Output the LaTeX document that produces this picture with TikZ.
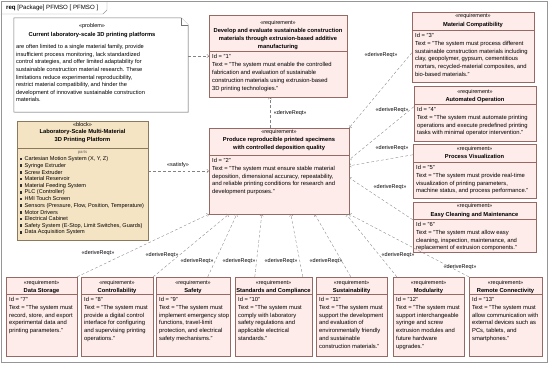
\documentclass[tikz,border=0pt]{standalone}
\usepackage{fontspec}
\setmainfont{Liberation Sans}
\usetikzlibrary{fit,calc,arrows.meta,shadows}

\definecolor{reqfill}{RGB}{253,236,233}
\definecolor{reqdraw}{RGB}{150,105,100}
\definecolor{blkfill}{RGB}{245,228,196}
\definecolor{blkdraw}{RGB}{140,120,90}
\definecolor{lnk}{RGB}{130,130,130}
\definecolor{frm}{RGB}{150,150,150}

\newcommand\stfont{\fontsize{7.8}{9}\selectfont}
\newcommand\ttfont{\bfseries\fontsize{8.2}{11.4}\selectfont}
\newcommand\bdfont{\fontsize{8.3}{11.2}\selectfont}

\tikzset{
  req/.style={draw=reqdraw, fill=reqfill, inner sep=0pt, line width=0.6pt,
    drop shadow={shadow xshift=1.2pt, shadow yshift=-1.2pt, opacity=0.25}},
  blk/.style={draw=blkdraw, fill=blkfill, inner sep=0pt, line width=0.6pt,
    drop shadow={shadow xshift=1.2pt, shadow yshift=-1.2pt, opacity=0.25}},
  notebox/.style={draw=black!55, fill=white, line width=0.6pt},
  stereo/.style={font=\stfont, inner sep=0pt},
  rtitle/.style={font=\ttfont, align=center, inner sep=0pt},
  rbody/.style={font=\bdfont, align=left, inner sep=0pt},
  sepline/.style={draw=reqdraw, line width=0.5pt},
  dep/.style={draw=lnk, line width=0.5pt, dash pattern=on 4pt off 3pt,
    -{Straight Barb[length=2.5pt, width=5pt]}},
  lbl/.style={font=\stfont, inner sep=1pt},
  part/.style={font=\fontsize{7.9}{9.5}\selectfont, anchor=west, inner sep=0pt},
}

% requirement box: name, x1, y1, x2, y2, stereotype y, title, separator y, text
\newcommand\reqbox[9]{%
  \node[req, fit={(#2,#3) (#4,#5)}] (#1) {};
  \node[stereo] (#1-st) at ({(#2+#4)/2},#6) {«requirement»};
  \node[rtitle, anchor=north] (#1-ti) at ({(#2+#4)/2},{#6+5.5}) {#7};
  \draw[sepline] (#2,#8) -- (#4,#8);
  \node[rbody, anchor=north west] (#1-tx) at ({#2+3},{#8+3}) {#9};
}

\begin{document}
\begin{tikzpicture}[x=0.05cm, y=-0.05cm]
\useasboundingbox (0,0) rectangle (550,366);

% Diagram frame
\draw[frm, line width=0.6pt] (1,1) rectangle (547,362);
\draw[frm, line width=0.6pt] (1,14) -- (103,14) -- (107,10) -- (107,1);
\node[anchor=west, font=\fontsize{8.7}{10}\selectfont, inner sep=0pt] (hdr) at (6,7.5)
  {\textbf{req} [Package] PFMSO [ PFMSO ]};

% Problem note
\node[fit={(14,18) (188,112)}, inner sep=0pt] (prob) {};
\draw[notebox, drop shadow={shadow xshift=1.2pt, shadow yshift=-1.2pt, opacity=0.2}]
  (prob.north west) -- ($(prob.north east)+(-7,0)$) -- ($(prob.north east)+(0,7)$)
  -- (prob.south east) -- (prob.south west) -- cycle;
\draw[notebox] ($(prob.north east)+(-7,0)$) -- ($(prob.north east)+(-7,7)$) -- ($(prob.north east)+(0,7)$);
\node[stereo] (prob-st) at (92,26) {«problem»};
\node[rtitle] (prob-ti) at (92,35) {Current laboratory-scale 3D printing platforms};
\node[rbody, anchor=north west, font=\fontsize{8.1}{10.8}\selectfont] (prob-tx) at (16,44.5)
  {are often limited to a single material family, provide\\
   insufficient process monitoring, lack standardized\\
   control strategies, and offer limited adaptability for\\
   sustainable construction material research. These\\
   limitations reduce experimental reproducibility,\\
   restrict material compatibility, and hinder the\\
   development of innovative sustainable construction\\
   materials.};

% Block
\node[blk, fit={(17,121) (148,240)}] (blk) {};
\node[stereo] (blk-st) at (82.5,125) {«block»};
\node[rtitle, anchor=north] (blk-ti) at (82.5,129) {Laboratory-Scale Multi-Material\\3D Printing Platform};
\draw[draw=blkdraw, line width=0.5pt] (17,148) -- (148,148);
\node[stereo, font=\fontsize{6}{7}\selectfont, text=black!60] (blk-pt) at (82.5,152.5) {parts};
\foreach \p [count=\i] in {{Cartesian Motion System (X, Y, Z)}, Syringe Extruder, Screw Extruder,
    Material Reservoir, Material Feeding System, PLC (Controller), HMI Touch Screen,
    {Sensors (Pressure, Flow, Position, Temperature)}, Motor Drivers, Electrical Cabinet,
    {Safety System (E-Stop, Limit Switches, Guards)}, Data Acquisition System} {
  \fill[black!80] ({19.5},{152.3+\i*6.67-1.2}) rectangle ({21.9},{152.3+\i*6.67+1.2});
  \node[part] (pt\i) at (24.5,{152.3+\i*6.67}) {\p};
}

% Top level requirements
\reqbox{r1}{209}{15}{347}{97}{23}{Develop and evaluate sustainable construction\\materials through extrusion-based additive\\manufacturing}{51.5}
  {Id = "1"\\Text = "The system must enable the controlled\\fabrication and evaluation of sustainable\\construction materials using extrusion-based\\3D printing technologies."}
\reqbox{r2}{209}{128}{349}{214}{132}{Produce reproducible printed specimens\\with controlled deposition quality}{155}
  {Id = "2"\\Text = "The system must ensure stable material\\deposition, dimensional accuracy, repeatability,\\and reliable printing conditions for research and\\development purposes."}

% Right column
\reqbox{r3}{412}{12}{534}{82}{16.5}{Material Compatibility}{30}
  {Id = "3"\\Text = "The system must process different\\sustainable construction materials including\\clay, geopolymer, gypsum, cementitious\\mortars, recycled-material composites, and\\bio-based materials."}
\reqbox{r4}{414}{86}{536}{141}{92}{Automated Operation}{104}
  {Id = "4"\\Text = "The system must automate printing\\operations and execute predefined printing\\tasks with minimal operator intervention."}
\reqbox{r5}{413}{144}{536}{198}{149}{Process Visualization}{162}
  {Id = "5"\\Text = "The system must provide real-time\\visualization of printing parameters,\\machine status, and process performance."}
\reqbox{r6}{413}{202}{536}{252}{206.5}{Easy Cleaning and Maintenance}{219}
  {Id = "6"\\Text = "The system must allow easy\\cleaning, inspection, maintenance, and\\replacement of extrusion components."}

% Bottom row
\reqbox{r7}{6}{277}{77}{356}{283}{Data Storage}{294}
  {Id = "7"\\Text = "The system must\\record, store, and export\\experimental data and\\printing parameters."}
\reqbox{r8}{81}{277}{153}{356}{283}{Controllability}{294}
  {Id = "8"\\Text = "The system must\\provide a digital control\\interface for configuring\\and supervising printing\\operations."}
\reqbox{r9}{156}{277}{230}{356}{283}{Safety}{294}
  {Id = "9"\\Text = "The system must\\implement emergency stop\\functions, travel-limit\\protection, and electrical\\safety mechanisms."}
\reqbox{r10}{235}{277}{312}{356}{283}{Standards and Compliance}{294}
  {Id = "10"\\Text = "The system must\\comply with laboratory\\safety regulations and\\applicable electrical\\standards."}
\reqbox{r11}{316}{277}{387}{356}{283}{Sustainability}{294}
  {Id = "11"\\Text = "The system must\\support the development\\and evaluation of\\environmentally friendly\\and sustainable\\construction materials."}
\reqbox{r12}{393}{277}{464}{356}{283}{Modularity}{294}
  {Id = "12"\\Text = "The system must\\support interchangeable\\syringe and screw\\extrusion modules and\\future hardware\\upgrades."}
\reqbox{r13}{469}{277}{542}{356}{283}{Remote Connectivity}{294}
  {Id = "13"\\Text = "The system must\\allow communication with\\external devices such as\\PCs, tablets, and\\smartphones."}

% Note and satisfy links
\draw[dep] (prob.east |- r1.west) -- (r1.west);
\draw[dep] (blk.east |- r2.west) -- (r2.west);
\node[lbl] (l-sat) at (178,165.5) {«satisfy»};
\draw[dep] ($(r2.north west)+(61,0)$) -- ($(r1.south west)+(61,0)$);
\node[lbl, anchor=west] (l-d1) at (273,113) {«deriveReqt»};

% Derive links, right column
\draw[dep] ($(r3.north west)+(0,41)$) -- (r2.north east);
\node[lbl] (l-d3) at (381,55) {«deriveReqt»};
\draw[dep] ($(r4.north west)+(0,21)$) -- ($(r2.north east)+(0,32)$);
\node[lbl] (l-d4) at (392,110) {«deriveReqt»};
\draw[dep] ($(r5.north west)+(0,11)$) -- ($(r2.north east)+(0,38)$);
\node[lbl] (l-d5) at (392,148) {«deriveReqt»};
\draw[dep] ($(r6.north west)+(0,18)$) -- ($(r2.north east)+(0,50)$);
\node[lbl] (l-d6) at (390,187) {«deriveReqt»};

% Derive links, bottom row
\draw[dep] (r7.north east) -- (r2.south west);
\node[lbl] (l-d7) at (98,253) {«deriveReqt»};
\draw[dep] (r8.north east) -- ($(r2.south west)+(20,0)$);
\node[lbl] (l-d8) at (162,255) {«deriveReqt»};
\draw[dep] ($(r9.north west)+(52,0)$) -- ($(r2.south west)+(28,0)$);
\node[lbl] (l-d9) at (197,261) {«deriveReqt»};
\draw[dep] ($(r10.north west)+(20,0)$) -- ($(r2.south west)+(53,0)$);
\node[lbl] (l-d10) at (239,261) {«deriveReqt»};
\draw[dep] ($(r10.north west)+(68,0)$) -- ($(r2.south west)+(82,0)$);
\node[lbl] (l-d10b) at (281,261) {«deriveReqt»};
\draw[dep] ($(r11.north west)+(35,0)$) -- ($(r2.south west)+(106,0)$);
\node[lbl] (l-d11) at (326,261) {«deriveReqt»};
\draw[dep] ($(r12.north west)+(4,0)$) -- ($(r2.south east)+(-3,0)$);
\node[lbl] (l-d12) at (398,255) {«deriveReqt»};
\draw[dep] (r13.north west) -- (r2.south east);
\node[lbl] (l-d13) at (460,267) {«deriveReqt»};
\end{tikzpicture}
\end{document}
